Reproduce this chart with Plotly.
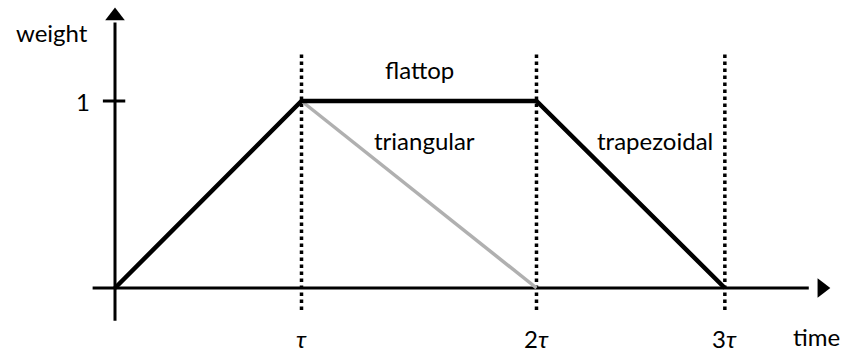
import plotly.graph_objects as go

# Data (time in units, tau-positions as drawn)
trap_t = [0, 1, 2.26, 3.27]
trap_w = [0, 1, 1, 0]
tri_t = [1, 2.26]
tri_w = [1, 0]
tick_t = [1, 2.26, 3.27]
tick_labels = ["<i>τ</i>", "2<i>τ</i>", "3<i>τ</i>"]

FONT = "Lato"
W, H = 846, 352
ox, oy = 115, 288
sx, sy = 186.5, 187.0
xr = [-ox / sx, (W - ox) / sx]
yr = [-(H - oy) / sy, oy / sy]

fig = go.Figure()

# dotted verticals
for t in tick_t:
    fig.add_trace(go.Scatter(x=[t, t], y=[-0.118, 1.25], mode="lines",
                             line=dict(color="black", width=3.5, dash="3.5px,3.5px"),
                             hoverinfo="skip", showlegend=False))

# axes lines
fig.add_trace(go.Scatter(x=[-0.12, 3.72], y=[0, 0], mode="lines",
                         line=dict(color="black", width=3), showlegend=False, hoverinfo="skip"))
fig.add_trace(go.Scatter(x=[0, 0], y=[-0.175, 1.42], mode="lines",
                         line=dict(color="black", width=3), showlegend=False, hoverinfo="skip"))
# y tick at 1
fig.add_trace(go.Scatter(x=[-0.065, 0.055], y=[1, 1], mode="lines",
                         line=dict(color="black", width=3), showlegend=False, hoverinfo="skip"))

# triangular (gray)
fig.add_trace(go.Scatter(x=tri_t, y=tri_w, mode="lines",
                         line=dict(color="#b0b0b0", width=3.5), showlegend=False, hoverinfo="skip"))
# trapezoidal (black)
fig.add_trace(go.Scatter(x=trap_t, y=trap_w, mode="lines",
                         line=dict(color="black", width=4.5), showlegend=False, hoverinfo="skip"))

# arrowheads
fig.add_trace(go.Scatter(x=[3.79], y=[0], mode="markers",
                         marker=dict(symbol="triangle-right", size=17, color="black"),
                         showlegend=False, hoverinfo="skip"))
fig.add_trace(go.Scatter(x=[0], y=[1.455], mode="markers",
                         marker=dict(symbol="triangle-up", size=17, color="black"),
                         showlegend=False, hoverinfo="skip"))

fs = 24
ann = []
for t, lab in zip(tick_t, tick_labels):
    ann.append(dict(x=t, y=-0.268, text=lab, showarrow=False, font=dict(size=fs)))
ann.append(dict(x=3.764, y=-0.262, text="time", showarrow=False, font=dict(size=fs)))
ann.append(dict(x=-0.172, y=1, text="1", showarrow=False, font=dict(size=fs)))
ann.append(dict(x=-0.338, y=1.364, text="weight", showarrow=False, font=dict(size=fs)))
ann.append(dict(x=1.635, y=1.166, text="flattop", showarrow=False, font=dict(size=fs)))
ann.append(dict(x=1.662, y=0.791, text="triangular", showarrow=False, font=dict(size=fs)))
ann.append(dict(x=2.895, y=0.791, text="trapezoidal", showarrow=False, font=dict(size=fs)))
fig.update_layout(annotations=ann)

fig.update_layout(
    width=W, height=H,
    margin=dict(l=0, r=0, t=0, b=0),
    paper_bgcolor="white", plot_bgcolor="white",
    font=dict(family=FONT, color="black"),
    xaxis=dict(range=xr, visible=False, fixedrange=True),
    yaxis=dict(range=yr, visible=False, fixedrange=True),
    showlegend=False,
    hovermode=False,
)

fig.write_html("out.html", config={"displayModeBar": False, "staticPlot": True},
               post_script="document.body.style.margin='0';document.body.style.overflow='hidden';")
